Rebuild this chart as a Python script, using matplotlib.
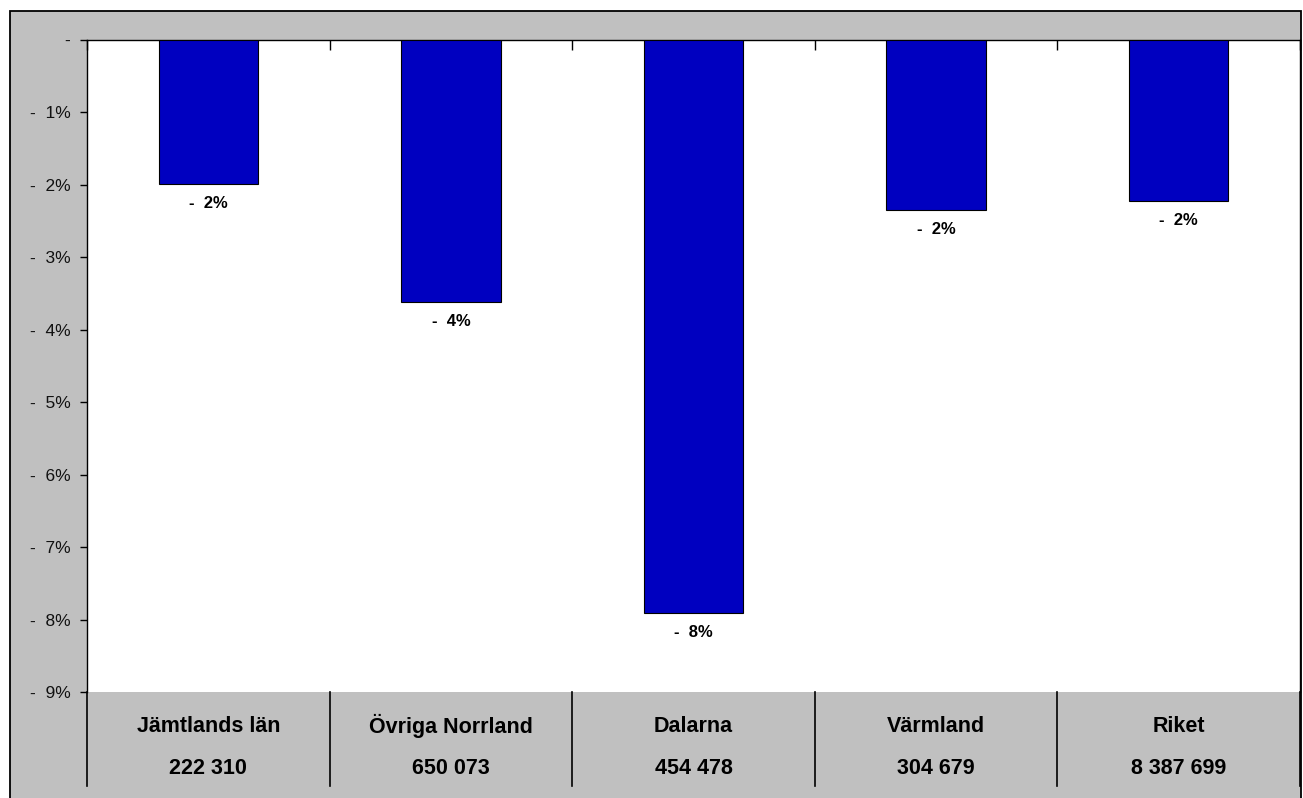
import matplotlib
matplotlib.use("Agg")
import matplotlib.pyplot as plt
from matplotlib.patches import Rectangle
import matplotlib.transforms as mtransforms

categories = ["Jämtlands län", "Övriga Norrland", "Dalarna", "Värmland", "Riket"]
populations = ["222 310", "650 073", "454 478", "304 679", "8 387 699"]
changes = [-1.99, -3.62, -7.91, -2.35, -2.22]   # percent
yticks = [0, -1, -2, -3, -4, -5, -6, -7, -8, -9]

W, H = 1303, 798
plt.rcParams['font.family'] = ['Liberation Sans', 'DejaVu Sans']
fig = plt.figure(figsize=(W / 100, H / 100), dpi=100)
fig.patch.set_facecolor("white")

# chart area (gray)
fig.patches.append(Rectangle((10 / W, -0.05), (1301 - 10) / W, 1 - 11 / H + 0.05,
                             transform=fig.transFigure, facecolor="#c0c0c0",
                             edgecolor="black", linewidth=1.3, zorder=-5))

left, right, top, bottom = 87, 1300, 40, 692
ax = fig.add_axes([left / W, 1 - bottom / H, (right - left) / W, (bottom - top) / H])
ax.set_zorder(2)
ax.set_facecolor("white")
x = list(range(len(categories)))
ax.bar(x, changes, width=0.41, color="#0000c0", edgecolor="black", linewidth=0.8, zorder=3)
ax.set_xlim(-0.5, len(categories) - 0.5)
ax.set_ylim(-9, 0)

def fmt(v):
    return "-" if round(v) == 0 else f"-  {abs(round(v))}%"

ax.set_yticks(yticks)
ax.set_yticklabels([fmt(v) for v in yticks], fontsize=12.5, color="#111111")
ax.tick_params(axis="y", direction="out", length=5, width=1, pad=7)
ax.xaxis.tick_top()
ax.set_xticks([i - 0.5 for i in range(len(categories) + 1)])
ax.set_xticklabels([])
ax.tick_params(axis="x", direction="in", length=7, width=1, top=True, bottom=False)
ax.spines["bottom"].set_visible(False)
for s in ["left", "top", "right"]:
    ax.spines[s].set_linewidth(1)

for xi, v in zip(x, changes):
    ax.annotate(fmt(v), (xi, v), xytext=(0, -14), textcoords="offset points",
                ha="center", va="center", fontsize=12, fontweight="bold")

trans = mtransforms.blended_transform_factory(ax.transData, ax.transAxes)
h = bottom - top
for i in range(len(categories) + 1):
    ax.plot([i - 0.5, i - 0.5], [0, -(786 - bottom) / h], transform=trans,
            color="black", linewidth=1.2, clip_on=False)
for xi, name, pop in zip(x, categories, populations):
    ax.text(xi, -(726 - bottom) / h, name, transform=trans, ha="center", va="center",
            fontsize=15.5, fontweight="bold")
    ax.text(xi, -(768 - bottom) / h, pop, transform=trans, ha="center", va="center",
            fontsize=15.5, fontweight="bold")

fig.savefig("out.png", dpi=100)
